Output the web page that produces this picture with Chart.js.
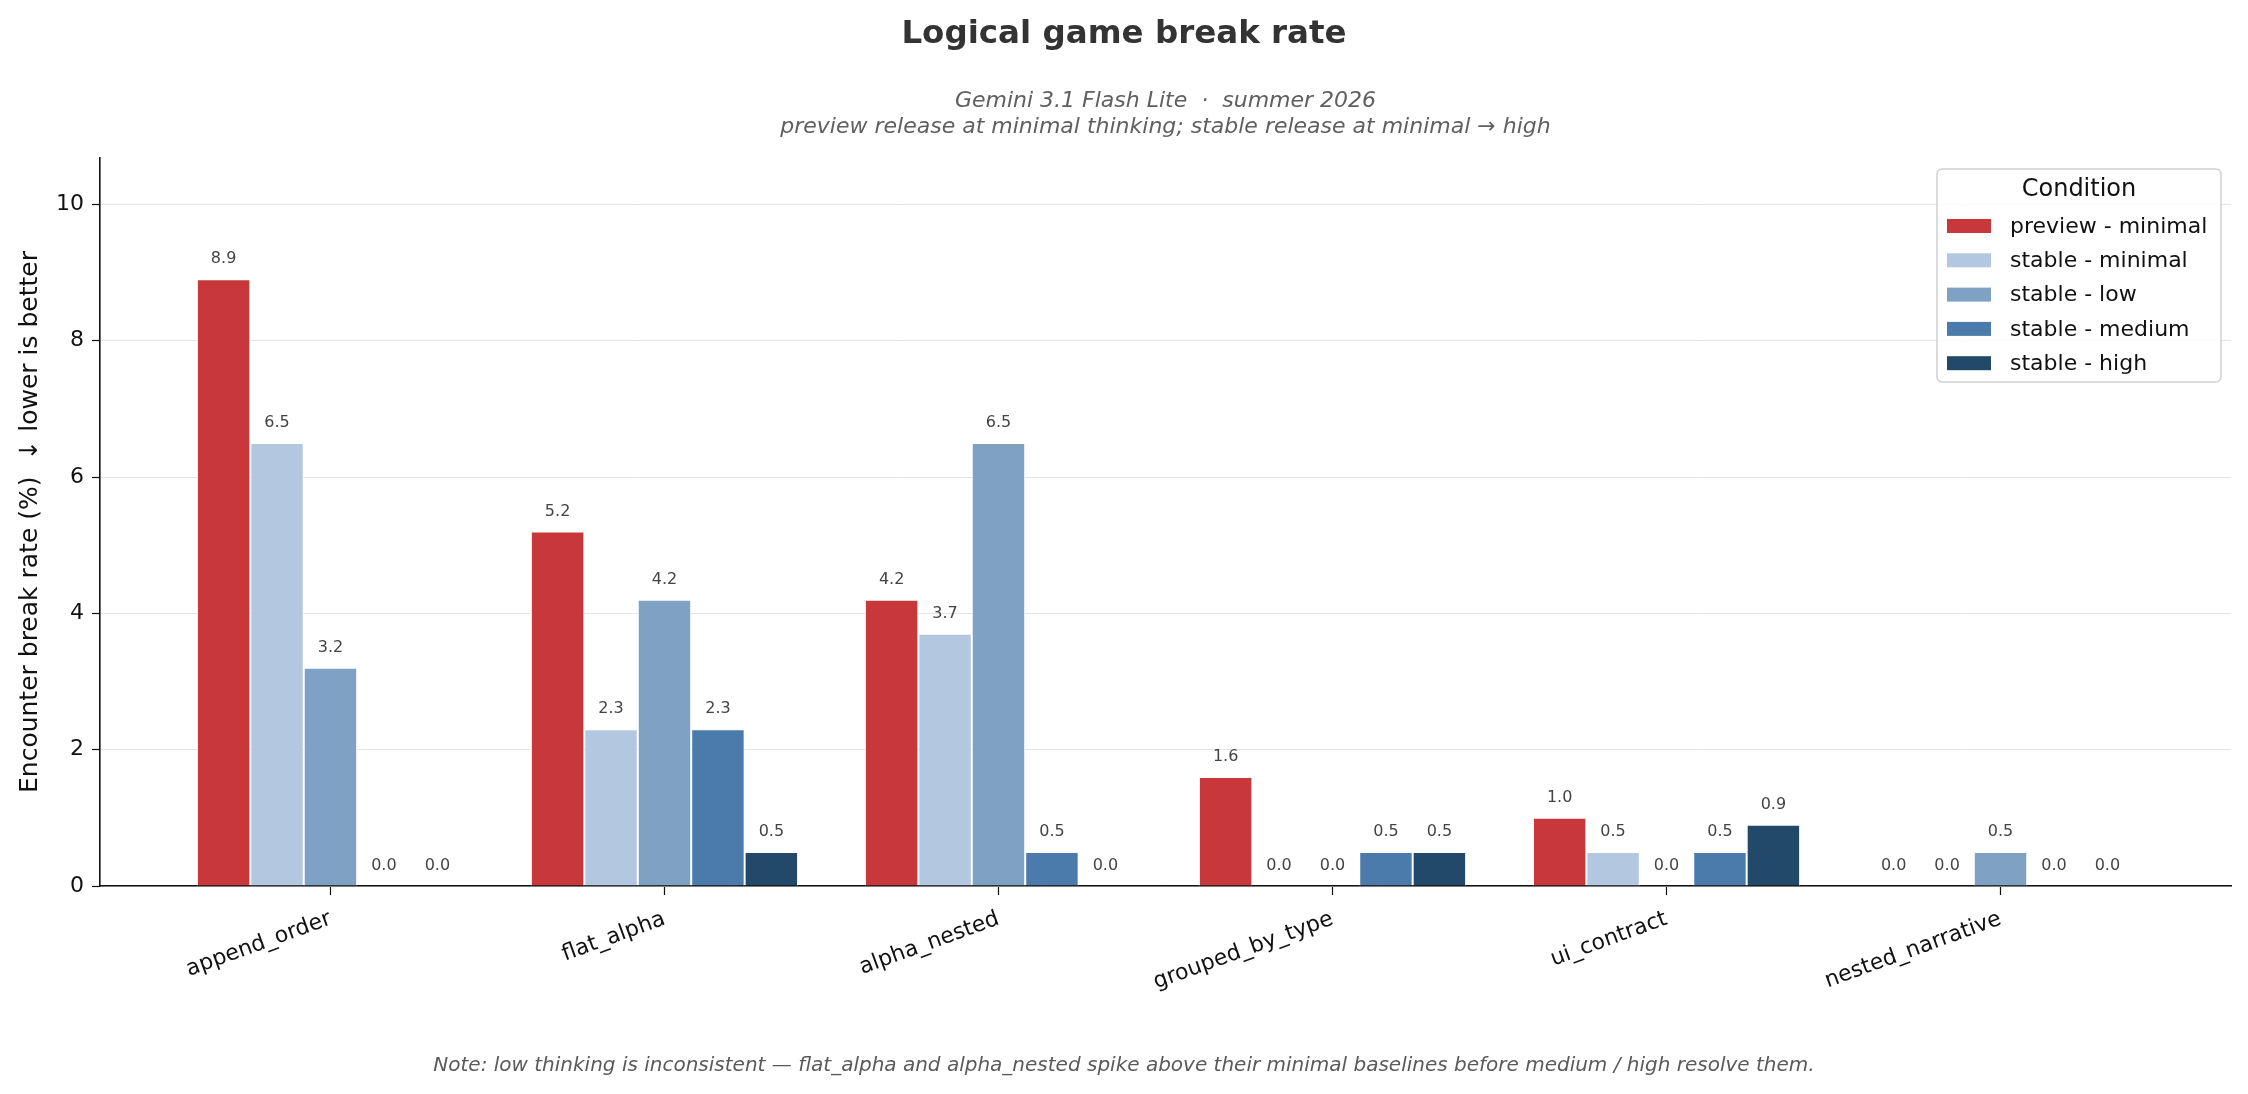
<!DOCTYPE html>
<html>
<head>
<meta charset="utf-8">
<script src="https://cdn.jsdelivr.net/npm/chart.js@4/dist/chart.umd.min.js"></script>
<style>
  html, body { margin: 0; padding: 0; background: #ffffff; }
  #wrap { position: relative; width: 2248px; height: 1094px; }
  #note { position: absolute; left: 0; width: 2248px; top: 1052px; text-align: center;
          font-family: "DejaVu Sans", sans-serif; font-style: italic; font-size: 20px; color: #5a5a5a; }
</style>
</head>
<body>
<div id="wrap">
  <canvas id="c" width="2248" height="1094"></canvas>
  <div id="note">Note: low thinking is inconsistent — flat_alpha and alpha_nested spike above their minimal baselines before medium / high resolve them.</div>
</div>
<script>
const categories = ["append_order", "flat_alpha", "alpha_nested", "grouped_by_type", "ui_contract", "nested_narrative"];
const seriesNames = ["preview - minimal", "stable - minimal", "stable - low", "stable - medium", "stable - high"];
const previewMinimal = [8.9, 5.2, 4.2, 1.6, 1.0, 0.0];
const stableMinimal  = [6.5, 2.3, 3.7, 0.0, 0.5, 0.0];
const stableLow      = [3.2, 4.2, 6.5, 0.0, 0.0, 0.5];
const stableMedium   = [0.0, 2.3, 0.5, 0.5, 0.5, 0.0];
const stableHigh     = [0.0, 0.5, 0.0, 0.5, 0.9, 0.0];
const seriesColors = ["#c8383a", "#b3c8e0", "#7fa2c4", "#4a7bab", "#224969"];
const yTicks = [0, 2, 4, 6, 8, 10];
const titleText = "Logical game break rate";
const subtitleLines = ["Gemini 3.1 Flash Lite  ·  summer 2026", "preview release at minimal thinking; stable release at minimal → high"];

const allSeries = [previewMinimal, stableMinimal, stableLow, stableMedium, stableHigh];
const yMax = Math.max(...allSeries.flat()) * 1.2;
const FONT = "DejaVu Sans";
Chart.defaults.font.family = FONT;

const datasets = allSeries.map((vals, s) => ({
  label: seriesNames[s],
  data: vals.map((v, i) => ({ x: i, y: v })),
  backgroundColor: seriesColors[s],
  borderColor: "#ffffff",
  borderWidth: 1,
  categoryPercentage: 0.8,
  barPercentage: 1.0
}));

const headings = {
  id: "headings",
  afterDraw(chart) {
    const ctx = chart.ctx;
    const ca = chart.chartArea;
    ctx.save();
    ctx.textAlign = "center";
    ctx.textBaseline = "middle";
    ctx.fillStyle = "#333333";
    ctx.font = "bold 32.5px " + FONT;
    ctx.fillText(titleText, chart.width / 2, 34.5);
    ctx.fillStyle = "#5f5f5f";
    ctx.font = "italic 22px " + FONT;
    const cx = (ca.left + ca.right) / 2;
    subtitleLines.forEach((line, i) => ctx.fillText(line, cx, 101.2 + i * 26.4));
    ctx.restore();
  }
};

const valueLabels = {
  id: "valueLabels",
  afterDatasetsDraw(chart) {
    const ctx = chart.ctx;
    ctx.save();
    ctx.font = "16px " + FONT;
    ctx.fillStyle = "#444444";
    ctx.textAlign = "center";
    ctx.textBaseline = "bottom";
    chart.data.datasets.forEach((ds, di) => {
      const meta = chart.getDatasetMeta(di);
      meta.data.forEach((el, i) => {
        const v = ds.data[i].y;
        ctx.fillText(v.toFixed(1), el.x, el.y - 12);
      });
    });
    ctx.restore();
  }
};

const boxLegend = {
  id: "boxLegend",
  afterDraw(chart) {
    const ctx = chart.ctx;
    const ca = chart.chartArea;
    const w = 284, h = 213;
    const right = ca.right - 10;
    const left = right - w;
    const top = ca.top + 11;
    ctx.save();
    ctx.beginPath();
    if (ctx.roundRect) ctx.roundRect(left, top, w, h, 5); else ctx.rect(left, top, w, h);
    ctx.fillStyle = "rgba(255,255,255,0.85)";
    ctx.fill();
    ctx.lineWidth = 1.5;
    ctx.strokeStyle = "#d0d0d0";
    ctx.stroke();
    ctx.fillStyle = "#111111";
    ctx.font = "24px " + FONT;
    ctx.textAlign = "center";
    ctx.textBaseline = "middle";
    ctx.fillText("Condition", left + w / 2, top + 21);
    ctx.textAlign = "left";
    ctx.font = "22px " + FONT;
    chart.data.datasets.forEach((ds, i) => {
      const cy = top + 57 + i * 34.3;
      ctx.fillStyle = ds.backgroundColor;
      ctx.fillRect(left + 10, cy - 7, 44, 14);
      ctx.fillStyle = "#111111";
      ctx.fillText(ds.label, left + 73, cy + 1);
    });
    ctx.restore();
  }
};

new Chart(document.getElementById("c"), {
  type: "bar",
  data: { datasets },
  plugins: [headings, valueLabels, boxLegend],
  options: {
    responsive: false,
    devicePixelRatio: 1,
    animation: false,
    layout: { padding: { left: 0, right: 17, top: 158, bottom: 0 } },
    plugins: {
      legend: { display: false },
      tooltip: { enabled: false },
      title: { display: false },
      subtitle: { display: false }
    },
    scales: {
      x: {
        type: "linear",
        min: -0.69,
        max: categories.length - 1 + 0.69,
        offset: false,
        afterBuildTicks(scale) { scale.ticks = categories.map((c, i) => ({ value: i })); },
        afterFit(scale) { scale.height = 208; },
        ticks: {
          autoSkip: false,
          minRotation: 20,
          maxRotation: 20,
          padding: 11,
          color: "#111111",
          font: { size: 22, family: FONT },
          callback: (v) => categories[v]
        },
        grid: { display: true, offset: false, drawOnChartArea: false, drawTicks: true, tickLength: 9, tickColor: "#111111", tickWidth: 1.2 },
        border: { display: true, color: "#111111", width: 1.6 }
      },
      y: {
        min: 0,
        max: yMax,
        afterBuildTicks(scale) { scale.ticks = yTicks.map(v => ({ value: v })); },
        afterFit(scale) { scale.width = 100; },
        ticks: { padding: 8, color: "#111111", font: { size: 22, family: FONT } },
        grid: { color: "#e5e5e5", lineWidth: 1, drawTicks: true, tickLength: 8, tickColor: "#111111", tickWidth: 1.2 },
        border: { display: true, color: "#111111", width: 1.6 },
        title: {
          display: true,
          text: "Encounter break rate (%)  ↓ lower is better",
          color: "#111111",
          font: { size: 25, family: FONT },
          padding: { top: 15, bottom: 0 }
        }
      }
    }
  }
});
</script>
</body>
</html>
